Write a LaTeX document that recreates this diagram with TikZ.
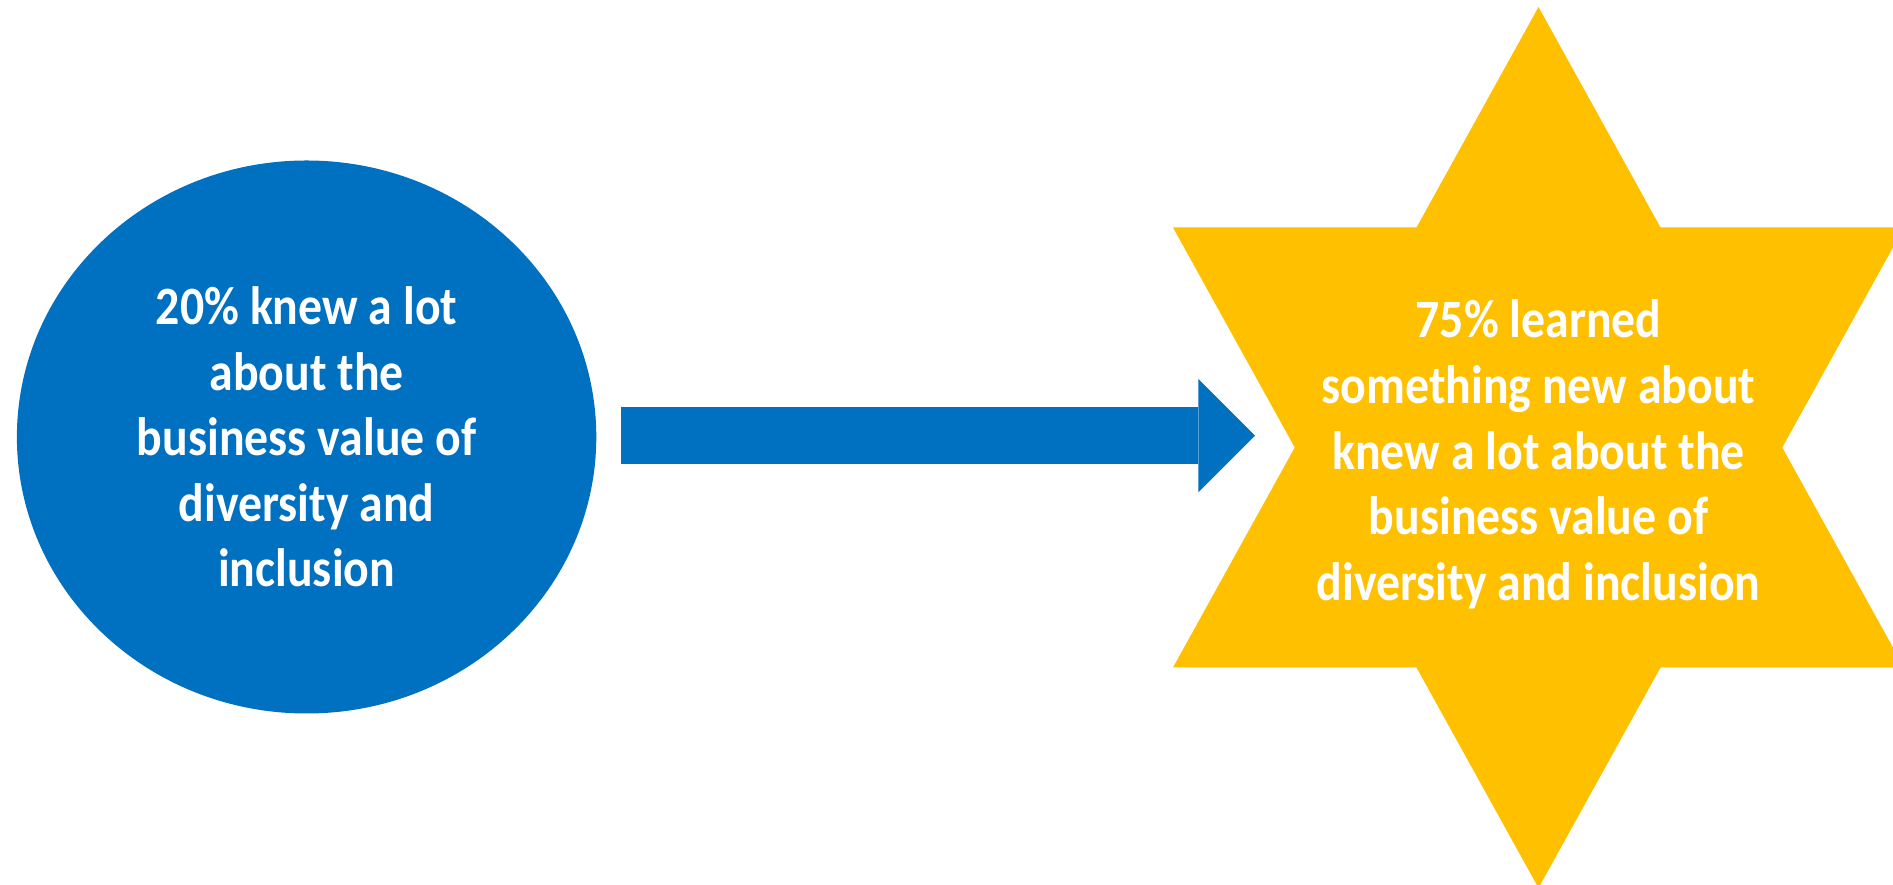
\documentclass[tikz,border=0pt]{standalone}
\usepackage{fontspec}
\setmainfont{Carlito}[FakeStretch=0.885]
\usetikzlibrary{
        arrows.meta,
        positioning,
        shapes.geometric
    }
\definecolor{officeblue}{HTML}{0070C0}
\definecolor{officegold}{HTML}{FFC000}
\tikzset{blob/.style={fill=officeblue,ellipse,inner sep=0pt,minimum width=579.4pt,minimum height=553pt}}
\tikzset{caption/.style={text=white,align=center,font=\fontsize{54}{65.6}\selectfont\bfseries}}
\tikzset{fat arrow/.style={officeblue,line width=56.7pt,-{Triangle[length=56.7pt,width=113.3pt,line width=0pt]}}}

\begin{document}
\begin{tikzpicture}[x=1pt,y=1pt]
            \fill[white] (0,0) rectangle (1893,885);
            \useasboundingbox (0,0) rectangle (1893,885);
            % six pointed star made of two triangles
            \coordinate (hexc) at (1538.5,437.5);
            \fill[officegold] ([yshift=440.5pt]hexc) -- ++(365.5,-660.5) -- ++(-731,0) -- cycle;
            \fill[officegold] ([yshift=-440.5pt]hexc) -- ++(365.5,660.5) -- ++(-731,0) -- cycle;
            \node[blob,caption] (knew) at (306.6,448)
                {20\% knew a lot\\about the\\business value of\\diversity and\\inclusion};
            \node[caption] (learned) at ([yshift=-7pt]hexc)
                {75\% learned\\something new about\\knew a lot about the\\business value of\\diversity and inclusion};
            \coordinate (tip) at (1255,449.3);
            \draw[fat arrow] ([shift={(24.7pt,1.3pt)}]knew.east) -- (tip);
        \end{tikzpicture}
\end{document}
